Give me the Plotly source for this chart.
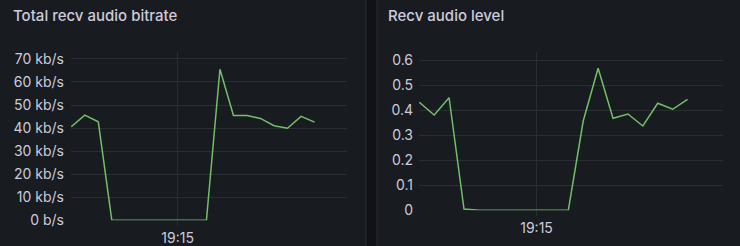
import plotly.graph_objects as go
from datetime import datetime, timedelta

# ---- data ----
start_time = "2024-01-01 19:13:02"
step_seconds = 15
bitrate_kbps = [40.6, 45.6, 42.7, 0, 0, 0, 0, 0, 0, 0, 0, 65.5, 45.5, 45.5, 44.2, 41.0, 39.9, 45.1, 42.6]
audio_level = [0.432, 0.381, 0.450, 0.005, 0, 0, 0, 0, 0, 0, 0, 0.357, 0.568, 0.368, 0.385, 0.337, 0.428, 0.404, 0.444]
bitrate_ticks = [0, 10, 20, 30, 40, 50, 60, 70]
bitrate_ticktext = ["0 b/s", "10 kb/s", "20 kb/s", "30 kb/s", "40 kb/s", "50 kb/s", "60 kb/s", "70 kb/s"]
level_ticks = [0, 0.1, 0.2, 0.3, 0.4, 0.5, 0.6]
level_ticktext = ["0", "0.1", "0.2", "0.3", "0.4", "0.5", "0.6"]
time_tick = "2024-01-01 19:15:00"
time_tick_text = "19:15"
titles = ["Total recv audio bitrate", "Recv audio level"]

t0 = datetime.strptime(start_time, "%Y-%m-%d %H:%M:%S")
times = [t0 + timedelta(seconds=step_seconds * i) for i in range(len(bitrate_kbps))]
x_range = [t0 - timedelta(seconds=0.3), t0 + timedelta(seconds=306)]

W, H = 740, 246
BG = "#111217"
PANEL = "#181b1f"
BORDER = "#2a2d33"
GRID = "#2a2d32"
TEXT = "#ccccdc"
GREEN = "#73bf69"
FONT = "Inter"


def fx(px):
    return px / W


def fy(py):
    return 1 - py / H


fig = go.Figure()
fig.add_trace(go.Scatter(x=times, y=bitrate_kbps, mode="lines",
                         line=dict(color=GREEN, width=1.5), xaxis="x", yaxis="y",
                         hoverinfo="skip"))
fig.add_trace(go.Scatter(x=times, y=audio_level, mode="lines",
                         line=dict(color=GREEN, width=1.5), xaxis="x2", yaxis="y2",
                         hoverinfo="skip"))

common_x = dict(type="date", range=x_range, tickvals=[time_tick], ticktext=[time_tick_text],
                showgrid=True, gridcolor=GRID, gridwidth=1, zeroline=False, showline=False,
                ticks="outside", ticklen=5, tickcolor=GRID, automargin=False,
                tickfont=dict(family=FONT, size=14, color=TEXT), fixedrange=True)
common_y = dict(showgrid=True, gridcolor=GRID, gridwidth=1, zeroline=False, showline=False,
                ticks="", automargin=False,
                tickfont=dict(family=FONT, size=14, color=TEXT), fixedrange=True)

fig.update_layout(
    width=W, height=H,
    margin=dict(l=0, r=0, t=0, b=0, autoexpand=False),
    paper_bgcolor=BG, plot_bgcolor="rgba(0,0,0,0)",
    showlegend=False,
    xaxis=dict(domain=[fx(71), fx(347)], anchor="y", **common_x),
    yaxis=dict(domain=[fy(220.3), fy(52)], anchor="x", range=[0, 73.0],
               tickvals=bitrate_ticks, ticktext=bitrate_ticktext, ticklabelstandoff=6, **common_y),
    xaxis2=dict(domain=[fx(419), fx(723.3)], anchor="y2", **common_x),
    yaxis2=dict(domain=[fy(210.3), fy(52)], anchor="x2", range=[0, 0.633],
                tickvals=level_ticks, ticktext=level_ticktext, ticklabelstandoff=5, **common_y),
    shapes=[
        dict(type="rect", xref="paper", yref="paper", x0=fx(-2), x1=fx(366), y0=fy(250), y1=fy(-4),
             fillcolor=PANEL, line=dict(color=BORDER, width=1), layer="below"),
        dict(type="rect", xref="paper", yref="paper", x0=fx(377), x1=fx(744), y0=fy(250), y1=fy(-4),
             fillcolor=PANEL, line=dict(color=BORDER, width=1), layer="below"),
    ],
    annotations=[
        dict(text=titles[0], xref="paper", yref="paper", x=fx(11), y=fy(15.5), xanchor="left",
             yanchor="middle", showarrow=False,
             font=dict(family=FONT, size=15, color=TEXT, weight=500)),
        dict(text=titles[1], xref="paper", yref="paper", x=fx(386), y=fy(15.5), xanchor="left",
             yanchor="middle", showarrow=False,
             font=dict(family=FONT, size=15, color=TEXT, weight=500)),
    ],
)

fig.write_html("out.html", config={"displayModeBar": False})
